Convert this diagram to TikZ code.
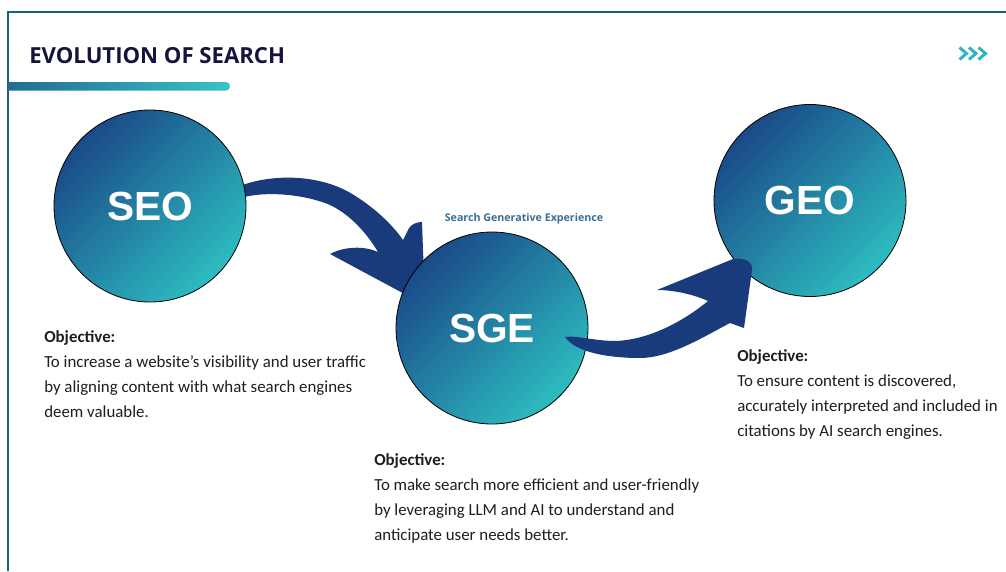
\documentclass[tikz,border=0pt]{standalone}
\usepackage{fontspec}
\setmainfont{Carlito}
\newfontfamily\headfont{Open Sans}
\newfontfamily\circfont{Liberation Sans}
\usetikzlibrary{positioning}

\definecolor{frameBlue}{HTML}{1D5F80}
\definecolor{titleInk}{HTML}{14143C}
\definecolor{barLeft}{HTML}{1F6A8F}
\definecolor{barRight}{HTML}{38C3C7}
\definecolor{chevTeal}{HTML}{2BB5BE}
\definecolor{stageTop}{HTML}{1A4A88}
\definecolor{stageBot}{HTML}{2DBCC0}
\definecolor{swooshBlue}{HTML}{1A3B7B}
\definecolor{subInk}{HTML}{3A6F98}
\definecolor{bodyInk}{HTML}{1E1E1E}

\begin{document}
\begin{tikzpicture}[
    x=0.75pt, y=-0.75pt,
    stage/.style  ={circle, draw=black, line width=0.6pt, minimum size=144pt,
                    inner sep=0pt, top color=stageTop, bottom color=stageBot,
                    shading angle=45, text=white,
                    font=\circfont\bfseries\fontsize{30.5}{30.5}\selectfont},
    objtxt/.style ={anchor=north west, inner sep=0pt, align=left, text=bodyInk,
                    font=\fontsize{12.65}{18.75}\selectfont},
    swoosh/.style ={fill=swooshBlue},
    chev/.style   ={draw=chevTeal, line width=2.2pt, miter limit=4},
]
% page and frame
\fill[white] (0,0) rectangle (1006,571);
\useasboundingbox (0,0) rectangle (1006,571);
\draw[frameBlue, line width=1.5pt] (8.3,571) -- (8.3,11.8) -- (1006,11.8);

% title with its underline bar
\node[anchor=base west, inner sep=0pt, text=titleInk,
      font=\headfont\bfseries\fontsize{16.6}{16.6}\selectfont] (title) at (29,63)
    {EVOLUTION OF SEARCH};
\begin{scope}
  \clip (8,70) rectangle (300,100);
  \shade[left color=barLeft, right color=barRight, rounded corners=3.2pt]
    (0,82) rectangle (230,90.6);
\end{scope}

% chevrons top right
\foreach \cx in {959.5,969,978.5}
  \draw[chev] (\cx,47.5) -- (\cx+7,53.5) -- (\cx,59.5);

% first swoosh, under the circles
\fill[swoosh] (240,186) .. controls (265,176) and (310,172) .. (347,191)
    .. controls (372,205) and (392,224) .. (403,240)
    -- (409,228) .. controls (412,224) and (417,222) .. (422,222)
    -- (425,305)
    -- (330,254) .. controls (345,246) and (365,246) .. (378,252)
    .. controls (365,230) and (345,210) .. (325,203)
    .. controls (300,194) and (265,191) .. (240,198) -- cycle;

% the three stages
\node[stage] (seo) at (150,206) {SEO};
\node[stage] (sge) at (492,328) {SGE};
\node[stage] (geo) at (810,200.5) {GEO};

\node[anchor=base, inner sep=0pt, text=subInk,
      font=\headfont\bfseries\fontsize{8}{8}\selectfont] (sgename) at (524,221)
    {Search Generative Experience};

% second swoosh, over the circles
\fill[swoosh] (565,337) .. controls (575,335) and (595,341) .. (615,341)
    .. controls (650,340) and (685,320) .. (708,301)
    .. controls (695,295) and (675,290) .. (657,290)
    -- (733,259) .. controls (745,257) and (753,262) .. (752,270)
    -- (744,328) -- (730,323)
    .. controls (705,336) and (670,358) .. (640,358)
    .. controls (610,358) and (576,353) .. (565,337) -- cycle;

% objectives
\node[objtxt] (seoobj) at (44,330.5)
    {\textbf{Objective:}\\
     To increase a website’s visibility and user traffic\\
     by aligning content with what search engines\\
     deem valuable.};
\node[objtxt] (sgeobj) at (374,453.5)
    {\textbf{Objective:}\\
     To make search more efficient and user-friendly\\
     by leveraging LLM and AI to understand and\\
     anticipate user needs better.};
\node[objtxt] (geoobj) at (737,349.5)
    {\textbf{Objective:}\\
     To ensure content is discovered,\\
     accurately interpreted and included in\\
     citations by AI search engines.};
\end{tikzpicture}
\end{document}
